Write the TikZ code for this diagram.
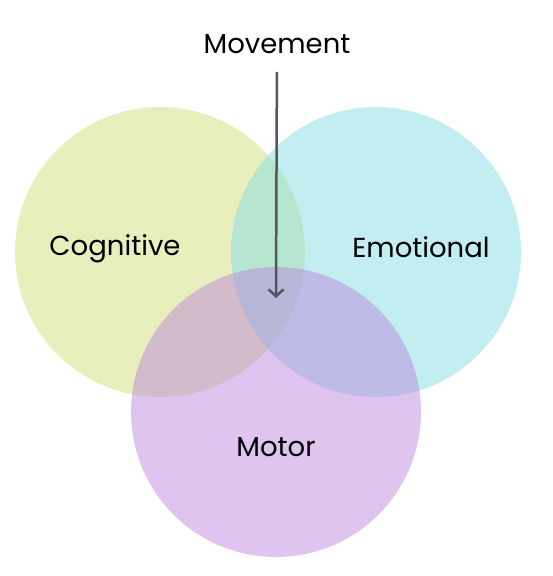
\documentclass[tikz,border=0pt]{standalone}
\usepackage{fontspec}
\setmainfont{Poppins}
\usepackage{xcolor}
\usetikzlibrary{arrows.meta, positioning}
\definecolor{cogcol}{RGB}{209,224,121}
\definecolor{emocol}{RGB}{133,221,229}
\definecolor{motcol}{RGB}{189,137,221}
\definecolor{arrowcol}{RGB}{85,85,96}

\begin{document}
\begin{tikzpicture}[
    x=1pt, y=-1pt,
    font=\fontsize{27.5}{32}\selectfont,
    >={Straight Barb[length=7pt, width=15pt]},
    area/.style={circle, minimum size=290pt, inner sep=0pt, fill opacity=0.5},
    label/.style={text=black, inner sep=4pt},
]
    \useasboundingbox (0,0) rectangle (552,576);

    % Circles
    \node[area, fill=cogcol] (cog) at (160,252) {};
    \node[area, fill=emocol] (emo) at (376,252) {};
    \node[area, fill=motcol] (mot) at (276,412) {};

    % Labels
    \node[label] (cogtxt) at (115,249) {Cognitive};
    \node[label] (emotxt) at (421,247) {Emotional};
    \node[label] (mottxt) at (276,447) {Motor};
    \node[label] (move) at (277,44) {Movement};

    % Arrow
    \coordinate (tip) at (276,298);
    \draw[->, arrowcol, line width=2.5pt, shorten <=14pt] (move) -- (tip);
\end{tikzpicture}
\end{document}
